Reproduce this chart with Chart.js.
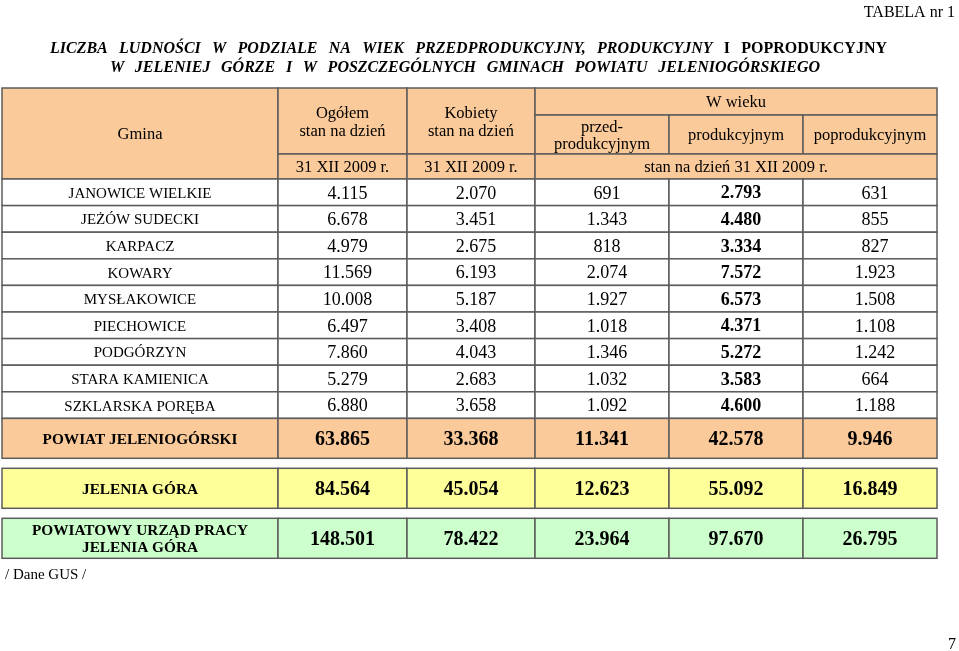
<!DOCTYPE html>
<html>
<head>
<meta charset="utf-8">
<script src="https://cdn.jsdelivr.net/npm/chart.js@4/dist/chart.umd.min.js"></script>
<style>
html, body { margin: 0; padding: 0; background: #fff; }
canvas { display: block; }
</style>
</head>
<body>
<canvas id="tabela" width="959" height="651"></canvas>
<script>
// dane
var gminy = ['JANOWICE WIELKIE', 'JEŻÓW SUDECKI', 'KARPACZ', 'KOWARY', 'MYSŁAKOWICE', 'PIECHOWICE', 'PODGÓRZYN', 'STARA KAMIENICA', 'SZKLARSKA PORĘBA'];
var ogolem = [4115, 6678, 4979, 11569, 10008, 6497, 7860, 5279, 6880];
var kobiety = [2070, 3451, 2675, 6193, 5187, 3408, 4043, 2683, 3658];
var przedprod = [691, 1343, 818, 2074, 1927, 1018, 1346, 1032, 1092];
var produk = [2793, 4480, 3334, 7572, 6573, 4371, 5272, 3583, 4600];
var poprod = [631, 855, 827, 1923, 1508, 1108, 1242, 664, 1188];

var sumyEtykiety = ['POWIAT JELENIOGÓRSKI', 'JELENIA GÓRA', 'POWIATOWY URZĄD PRACY\nJELENIA GÓRA'];
var powiat = [63865, 33368, 11341, 42578, 9946];
var jeleniaGora = [84564, 45054, 12623, 55092, 16849];
var pup = [148501, 78422, 23964, 97670, 26795];

var naglowki = ['Ogółem\nstan na dzień', 'Kobiety\nstan na dzień'];
var wWieku = ['przed-\nprodukcyjnym', 'produkcyjnym', 'poprodukcyjnym'];
var dataStanu = '31 XII 2009 r.';

// układ
var KOL = [2, 278, 407, 535, 669, 803, 937];
var GORA = 88, H1 = 115, H2 = 154, H3 = 179, WIERSZ = 26.6;
var SUMY_Y = [[418.4, 458.3], [468.3, 508.3], [518.3, 558.3]];
var KOLORY = ['#FBCA9A', '#FFFF99', '#CCFFCC'];
var LINIA = '#5c5c5c';
var FONT = '"Liberation Serif", "Times New Roman", serif';
var DY = 1.5; // korekta pionowa tekstu

function fmt(v) {
    return String(v).replace(/\B(?=(\d{3})+(?!\d))/g, '.');
}

var tabelaPlugin = {
    id: 'tabela',
    afterDraw: function (chart) {
        var c = chart.ctx, sx = chart.scales.x, sy = chart.scales.y;

        function komorka(x0, x1, y0, y1, fill) {
            var X0 = sx.getPixelForValue(x0), X1 = sx.getPixelForValue(x1);
            var Y0 = sy.getPixelForValue(y0), Y1 = sy.getPixelForValue(y1);
            c.fillStyle = fill;
            c.fillRect(X0, Y0, X1 - X0, Y1 - Y0);
            c.strokeRect(X0, Y0, X1 - X0, Y1 - Y0);
        }

        function tekst(str, x, y, font, lh, align) {
            var linie = String(str).split('\n');
            c.font = font;
            c.fillStyle = '#000';
            c.textAlign = align || 'center';
            c.textBaseline = 'middle';
            var y0 = y + DY - (linie.length - 1) * lh / 2;
            for (var i = 0; i < linie.length; i++) {
                c.fillText(linie[i], sx.getPixelForValue(x), sy.getPixelForValue(y0 + i * lh));
            }
        }

        function srodek(a, b) { return (a + b) / 2; }

        // tytuł wyjustowany
        function justuj(slowa, x0, x1, y) {
            var suma = 0;
            slowa.forEach(function (s) { c.font = s[1]; suma += c.measureText(s[0]).width; });
            var odstep = (sx.getPixelForValue(x1) - sx.getPixelForValue(x0) - suma) / (slowa.length - 1);
            var x = sx.getPixelForValue(x0);
            c.fillStyle = '#000';
            c.textAlign = 'left';
            c.textBaseline = 'middle';
            slowa.forEach(function (s) {
                c.font = s[1];
                c.fillText(s[0], x, sy.getPixelForValue(y + DY));
                x += c.measureText(s[0]).width + odstep;
            });
        }
        var fi = 'italic bold 16px ' + FONT, fb = 'bold 16px ' + FONT;
        var t1 = 'LICZBA LUDNOŚCI W PODZIALE NA WIEK PRZEDPRODUKCYJNY, PRODUKCYJNY'.split(' ').map(function (w) { return [w, fi]; })
            .concat([['I', fb], ['POPRODUKCYJNY', fb]]);
        var t2 = 'W JELENIEJ GÓRZE I W POSZCZEGÓLNYCH GMINACH POWIATU JELENIOGÓRSKIEGO'.split(' ').map(function (w) { return [w, fi]; });
        justuj(t1, 50, 887, 47.5);
        justuj(t2, 110, 820, 66);

        tekst('TABELA nr 1', 955, 11, '16px ' + FONT, 18, 'right');

        c.strokeStyle = LINIA;
        c.lineWidth = 1.5;

        // nagłówek
        komorka(KOL[0], KOL[1], GORA, H3, KOLORY[0]);
        komorka(KOL[1], KOL[2], GORA, H2, KOLORY[0]);
        komorka(KOL[2], KOL[3], GORA, H2, KOLORY[0]);
        komorka(KOL[1], KOL[2], H2, H3, KOLORY[0]);
        komorka(KOL[2], KOL[3], H2, H3, KOLORY[0]);
        komorka(KOL[3], KOL[6], GORA, H1, KOLORY[0]);
        for (var k = 0; k < 3; k++) komorka(KOL[3 + k], KOL[4 + k], H1, H2, KOLORY[0]);
        komorka(KOL[3], KOL[6], H2, H3, KOLORY[0]);

        var fh = '16.5px ' + FONT;
        tekst('Gmina', srodek(KOL[0], KOL[1]), srodek(GORA, H3), fh, 18);
        for (k = 0; k < 2; k++) {
            tekst(naglowki[k], srodek(KOL[1 + k], KOL[2 + k]), srodek(GORA, H2), fh, 18);
            tekst(dataStanu, srodek(KOL[1 + k], KOL[2 + k]), srodek(H2, H3), fh, 18);
        }
        tekst('W wieku', srodek(KOL[3], KOL[6]), srodek(GORA, H1), fh, 18);
        for (k = 0; k < 3; k++) tekst(wWieku[k], srodek(KOL[3 + k], KOL[4 + k]), srodek(H1, H2), fh, 17.5);
        tekst('stan na dzień ' + dataStanu, srodek(KOL[3], KOL[6]), srodek(H2, H3), fh, 18);

        // wiersze gmin
        var kolumny = [ogolem, kobiety, przedprod, produk, poprod];
        for (var i = 0; i < gminy.length; i++) {
            var y0 = H3 + i * WIERSZ, y1 = y0 + WIERSZ;
            for (k = 0; k < 6; k++) komorka(KOL[k], KOL[k + 1], y0, y1, '#fff');
            tekst(gminy[i], srodek(KOL[0], KOL[1]), srodek(y0, y1), '15px ' + FONT, 16);
            for (k = 0; k < 5; k++) {
                var f = (k === 3 ? 'bold ' : '') + '18px ' + FONT;
                tekst(fmt(kolumny[k][i]), srodek(KOL[k + 1], KOL[k + 2]) + 5, srodek(y0, y1), f, 18);
            }
        }

        // wiersze sum
        var sumy = [powiat, jeleniaGora, pup];
        for (var r = 0; r < 3; r++) {
            var a = SUMY_Y[r][0], b = SUMY_Y[r][1];
            for (k = 0; k < 6; k++) komorka(KOL[k], KOL[k + 1], a, b, KOLORY[r]);
            tekst(sumyEtykiety[r], srodek(KOL[0], KOL[1]), srodek(a, b), 'bold 15.3px ' + FONT, 17);
            for (k = 0; k < 5; k++) {
                tekst(fmt(sumy[r][k]), srodek(KOL[k + 1], KOL[k + 2]), srodek(a, b), 'bold 20px ' + FONT, 20);
            }
        }

        tekst('/ Dane GUS /', 5, 574, '15px ' + FONT, 18, 'left');
        tekst('7', 956, 643, '16px ' + FONT, 18, 'right');
    }
};

var ctx = document.getElementById('tabela');
var TabelaChart = new Chart(ctx, {
    type: 'scatter',
    data: { datasets: [] },
    options: {
        responsive: false,
        animation: false,
        layout: { padding: 0 },
        plugins: { legend: { display: false }, tooltip: { enabled: false } },
        scales: {
            x: { type: 'linear', display: false, min: 0, max: 959 },
            y: { type: 'linear', display: false, min: 0, max: 651, reverse: true }
        }
    },
    plugins: [tabelaPlugin]
});
</script>
</body>
</html>
